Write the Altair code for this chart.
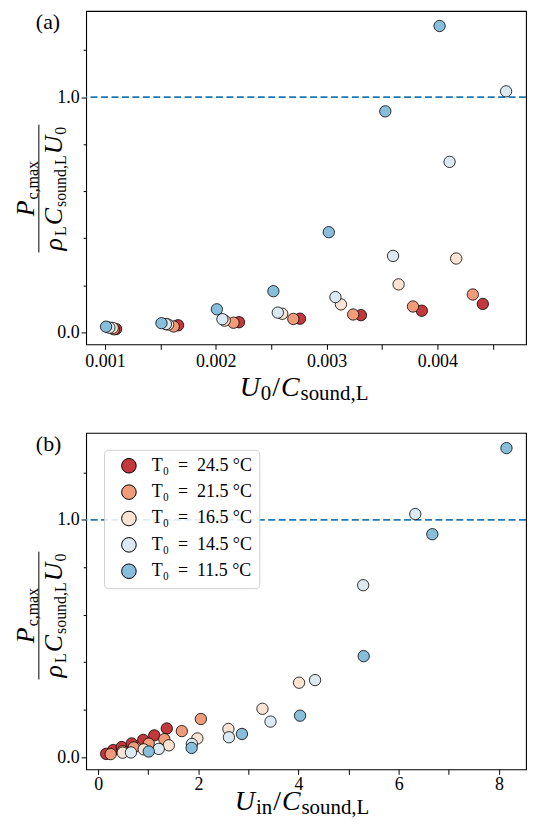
import altair as alt
import pandas as pd

# ---------------- data ----------------
temps = ["T₀\u2002=\u200224.5 °C", "T₀\u2002=\u200221.5 °C", "T₀\u2002=\u200216.5 °C",
         "T₀\u2002=\u200214.5 °C", "T₀\u2002=\u200211.5 °C"]
colors = ["#c3383d", "#f09c7b", "#fbe3d4", "#dbeaf2", "#87bedc"]

# U0 / C_sound,L  (panel a)
xa_245 = [0.00110, 0.00166, 0.00221, 0.00276, 0.00331, 0.00386, 0.00441]
xa_215 = [0.00108, 0.00162, 0.00216, 0.00270, 0.00324, 0.00378, 0.00432]
xa_165 = [0.00107, 0.00157, 0.00208, 0.00260, 0.00313, 0.00365, 0.00417]
xa_145 = [0.00104, 0.00155, 0.00206, 0.00256, 0.00308, 0.00360, 0.00411, 0.00462]
xa_115 = [0.00101, 0.00151, 0.00201, 0.00252, 0.00302, 0.00353, 0.00402]

# U_in / C_sound,L  (panel b)
xb_245 = [0.16, 0.30, 0.47, 0.67, 0.90, 1.12, 1.37]
xb_215 = [0.25, 0.49, 0.71, 1.01, 1.32, 1.67, 2.05]
xb_165 = [0.49, 0.91, 1.41, 1.98, 2.60, 3.28, 4.01]
xb_145 = [0.655, 1.21, 1.87, 2.61, 3.44, 4.33, 5.29, 6.33]
xb_115 = [1.01, 1.865, 2.87, 4.03, 5.30, 6.67, 8.15]

# P_c,max / (rho_L C_sound,L U0)
y_245 = [0.014, 0.030, 0.043, 0.058, 0.073, 0.092, 0.121]
y_215 = [0.013, 0.025, 0.041, 0.057, 0.076, 0.110, 0.161]
y_165 = [0.019, 0.033, 0.050, 0.079, 0.119, 0.204, 0.314]
y_145 = [0.020, 0.035, 0.056, 0.084, 0.150, 0.325, 0.725, 1.025]
y_115 = [0.024, 0.039, 0.098, 0.175, 0.426, 0.940, 1.303]

xa_ticks = [0.001, 0.0015, 0.002, 0.0025, 0.003, 0.0035, 0.004, 0.0045]
xb_ticks = [0, 1, 2, 3, 4, 5, 6, 7, 8]
y_ticks = [0, 0.2, 0.4, 0.6, 0.8, 1.0, 1.2]

rows = []
for t, xa, xb, ys in zip(temps,
                         [xa_245, xa_215, xa_165, xa_145, xa_115],
                         [xb_245, xb_215, xb_165, xb_145, xb_115],
                         [y_245, y_215, y_165, y_145, y_115]):
    for a, b, v in zip(xa, xb, ys):
        rows.append({"T": t, "xa": a, "xb": b, "y": v})
df = pd.DataFrame(rows)

FONT = "Liberation Serif"
GAP = 1
W_REG = {"0": 500, "1": 500, "/": 278, "s": 389, "o": 500, "u": 500, "n": 500,
         "d": 500, ",": 250, "L": 611, "c": 444, "m": 778, "a": 444, "x": 500, "i": 278}
W_IT = {"U": 722, "C": 667, "P": 611, "ρ": 520}


def tw(text, size, italic):
    tbl = W_IT if italic else W_REG
    return sum(tbl.get(ch, 500) for ch in text) * size / 1000.0


def math_label(pieces, center, base, rotated):
    total = sum(tw(t, s, i) for t, s, i, _ in pieces) + GAP * (len(pieces) - 1)
    layers = []
    cum = 0.0
    for t, s, i, sh in pieces:
        if rotated:
            x, y, ang = base + sh, center + total / 2 - cum, 270
        else:
            x, y, ang = center - total / 2 + cum, base + sh, 0
        layers.append(
            alt.Chart(alt.Data(values=[{}]))
            .mark_text(text=t, font=FONT, fontSize=s, fontStyle="italic" if i else "normal",
                       align="left", baseline="alphabetic", angle=ang, color="black")
            .encode(x=alt.value(x), y=alt.value(y))
        )
        cum += tw(t, s, i) + GAP
    return layers, total


def y_title(cy):
    M, S, SH = 26, 16, 4
    num = [("P", M, True, 0), ("c,max", S, False, SH)]
    den = [("ρ", M, True, 0), ("L", S, False, SH), ("C", M, True, 0),
           ("sound,L", S, False, SH), ("U", M, True, 0), ("0", S, False, SH)]
    l1, _ = math_label(num, cy, -52, True)
    l2, dlen = math_label(den, cy, -24, True)
    bar = (alt.Chart(alt.Data(values=[{}]))
           .mark_rule(color="black", strokeWidth=1)
           .encode(x=alt.value(-47.5), y=alt.value(cy - dlen / 2 - 2), y2=alt.value(cy + dlen / 2 + 2)))
    return l1 + l2 + [bar]


def x_title(sub0, cx, base):
    M, S, SH = 28, 21, 4
    pieces = [("U", M, True, 0), (sub0, S, False, SH), ("/", M, False, 0),
              ("C", M, True, 0), ("sound,L", S, False, SH)]
    layers, _ = math_label(pieces, cx, base, False)
    return layers


def panel_tag(txt):
    return (alt.Chart(alt.Data(values=[{}]))
            .mark_text(text=txt, font=FONT, fontSize=22, align="left", baseline="top", color="black")
            .encode(x=alt.value(-50.5), y=alt.value(1)))


yaxis = alt.Axis(values=y_ticks, title=None,
                 labelExpr="datum.value == 0 || datum.value == 1 ? format(datum.value, '.1f') : ''",
                 tickSize={"condition": {"test": "datum.value == 0 || datum.value == 1", "value": 5}, "value": 3},
                 labelPadding=2)
yscale = alt.Scale(domain=[-0.051, 1.367], nice=False, zero=False)
cscale = alt.Scale(domain=temps, range=colors)

hline = (alt.Chart(alt.Data(values=[{"v": 1.0}]))
         .mark_rule(color="#1f77b4", strokeDash=[7, 3.5], strokeWidth=1.8)
         .encode(y=alt.Y("v:Q", scale=yscale, axis=yaxis)))

PT = dict(filled=True, shape="circle", size=130, stroke="black", strokeWidth=0.8, opacity=1)
W = 442
HA, HB = 335, 338

# ---------- panel (a) ----------
pts_a = alt.Chart(df).mark_point(**PT).encode(
    x=alt.X("xa:Q", scale=alt.Scale(domain=[0.00083, 0.0048], nice=False, zero=False),
            axis=alt.Axis(values=xa_ticks, title=None, tickSize=5, labelPadding=3,
                          labelExpr="abs(datum.value*1000 - round(datum.value*1000)) < 1e-6 ? format(datum.value, '.3f') : ''")),
    y=alt.Y("y:Q", scale=yscale, axis=yaxis),
    color=alt.Color("T:N", scale=cscale, legend=None),
)
panel_a = alt.layer(hline, pts_a, *x_title("0", 219, 387), *y_title(178.5), panel_tag("(a)")
                    ).properties(width=W, height=HA)

# ---------- panel (b) ----------
pts_b = alt.Chart(df).mark_point(**PT).encode(
    x=alt.X("xb:Q", scale=alt.Scale(domain=[-0.24, 8.54], nice=False, zero=False),
            axis=alt.Axis(values=xb_ticks, title=None, tickSize=5, labelPadding=1.5,
                          labelExpr="datum.value % 2 == 0 ? format(datum.value, 'd') : ''")),
    y=alt.Y("y:Q", scale=yscale, axis=yaxis),
    color=alt.Color("T:N", scale=cscale, sort=temps,
                    legend=alt.Legend(orient="none", legendX=18, legendY=17, title=None,
                                      labelFont=FONT, labelFontSize=18, labelColor="black",
                                      symbolType="circle", symbolSize=215, symbolStrokeColor="black",
                                      symbolStrokeWidth=1, symbolOpacity=1, symbolOffset=9,
                                      labelOffset=14, rowPadding=6.5, padding=7,
                                      strokeColor="#d0d0d0", fillColor="rgba(255,255,255,0.85)",
                                      cornerRadius=4)),
)
panel_b = alt.layer(hline, pts_b, *x_title("in", 217, 379), *y_title(183.5), panel_tag("(b)")
                    ).properties(width=W, height=HB)

chart = (alt.vconcat(panel_a, panel_b, spacing=27)
         .resolve_scale(color="independent")
         .properties(padding={"left": 4.5, "top": 0, "right": 0, "bottom": 0})
         .configure_view(stroke="black", strokeWidth=1.1)
         .configure_axis(labelFont=FONT, labelFontSize=18, labelColor="black", tickColor="black",
                         tickWidth=1, domain=False, grid=False))

chart.save("out.html", embed_options={"renderer": "svg", "actions": False})
